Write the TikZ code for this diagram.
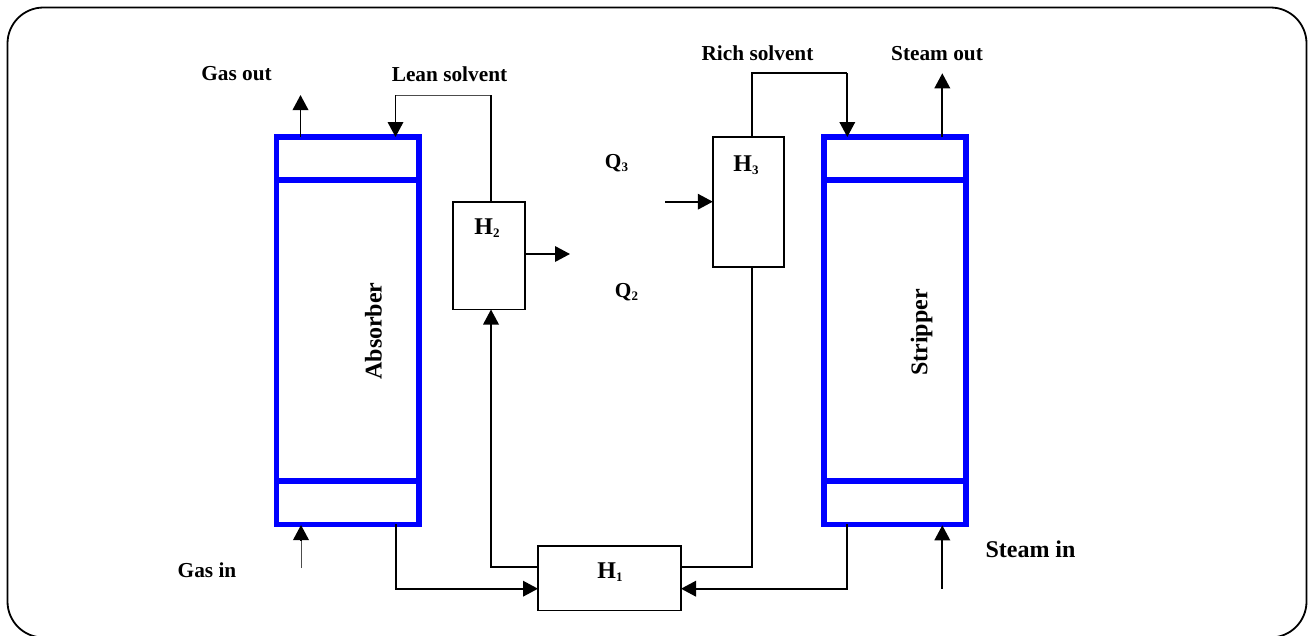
\documentclass[tikz,border=0pt]{standalone}
\usepackage{fontspec}
\setmainfont{Liberation Serif}
\usetikzlibrary{arrows.meta}
\newcommand{\subdig}[1]{\raisebox{-3pt}{\fontsize{13}{13}\selectfont #1}}
\tikzset{
  x=1pt,y=-1pt,
  frame/.style={draw=black,line width=1.8pt,rounded corners=36pt},
  column/.style={draw=blue,line width=5.5pt,inner sep=0pt,outer sep=0pt,anchor=north west},
  tray/.style={draw=blue,line width=5.5pt},
  hx/.style={draw=black,line width=1.9pt,fill=white,inner sep=0pt,outer sep=0pt,anchor=north west},
  flow/.style={draw=black,line width=1.9pt,-{Triangle[length=15pt,width=15.5pt]}},
  plain/.style={draw=black,line width=1.9pt},
  hair/.style={draw=black!70,line width=1pt},
  lbl/.style={font=\fontsize{21.3}{21.3}\selectfont\bfseries,inner sep=0pt},
  biglbl/.style={font=\fontsize{24}{24}\selectfont\bfseries,inner sep=0pt},
}
\begin{document}
\begin{tikzpicture}
\useasboundingbox (0,0) rectangle (1309,635);
\begin{scope}
\clip (0,0) rectangle (1309,635);
\draw[frame] (7.5,637.5) rectangle (1306.5,7.5);
\end{scope}
% columns
\node[column,minimum width=142.5pt,minimum height=387.5pt] (abs) at (276.5,137) {};
\node[column,minimum width=142pt,minimum height=387.5pt] (str) at (824,137) {};
\coordinate (absTL) at (276.5,180); \coordinate (absTR) at (419,180);
\coordinate (absBL) at (276.5,481); \coordinate (absBR) at (419,481);
\coordinate (strTL) at (824,180); \coordinate (strTR) at (966,180);
\coordinate (strBL) at (824,481); \coordinate (strBR) at (966,481);
\draw[tray] (absTL) -- (absTR); \draw[tray] (absBL) -- (absBR);
\draw[tray] (strTL) -- (strTR); \draw[tray] (strBL) -- (strBR);
\node[biglbl,rotate=90] (absl) at (373.5,331) {Absorber};
\node[biglbl,rotate=90] (strl) at (921.5,332.5) {Stripper};
% exchangers
\node[hx,minimum width=72pt,minimum height=107.5pt] (h2) at (453,202) {};
\node[hx,minimum width=71.5pt,minimum height=129.5pt] (h3) at (712.8,137.2) {};
\node[hx,minimum width=143pt,minimum height=64.5pt] (h1) at (538,546) {};
\node[biglbl] (h2l) at (487,228) {H\subdig{2}};
\node[biglbl] (h3l) at (746,165) {H\subdig{3}};
\node[biglbl] (h1l) at (610,572) {H\subdig{1}};
% labels
\node[lbl] (gasout) at (236.5,74) {Gas out};
\node[lbl] (lean) at (449.5,74) {Lean solvent};
\node[lbl] (rich) at (757.5,53) {Rich solvent};
\node[lbl] (steamout) at (937,54) {Steam out};
\node[lbl] (q3) at (616.5,163) {Q\subdig{3}};
\node[lbl] (q2) at (626.5,292) {Q\subdig{2}};
\node[lbl] (gasin) at (207,570) {Gas in};
\node[biglbl] (steamin) at (1030.5,549) {Steam in};
% free ends
\coordinate (gasoutA) at (300.5,137); \coordinate (gasoutB) at (300.5,95);
\coordinate (leanA) at (395.5,95); \coordinate (leanB) at (395.5,137);
\coordinate (h2top) at (491,95);
\coordinate (q2end) at (570,254); \coordinate (q2start) at (524,254);
\coordinate (q3start) at (665,201.7);
\coordinate (richT) at (752,73.3); \coordinate (richA) at (847.3,73.3); \coordinate (richB) at (847.3,137);
\coordinate (steamoutA) at (942.3,137); \coordinate (steamoutB) at (942.3,73.3);
\coordinate (gasinA) at (301,568); \coordinate (gasinB) at (301,525);
\coordinate (steaminA) at (942.3,588.7); \coordinate (steaminB) at (942.3,525.3);
% connectors
\draw[flow] (gasoutA) -- (gasoutB);
\draw[hair] (h2top) -- (leanA);
\draw[plain] (h2.north -| h2top) -- (h2top);
\draw[flow] (leanA) -- (leanB);
\draw[flow] (q2start) -- (q2end);
\draw[flow] (q3start) -- (q3start -| h3.west);
\draw[plain] (h3.north -| richT) -- (richT) -- (richA);
\draw[flow] (richA) -- (richB);
\draw[flow] (steamoutA) -- (steamoutB);
\draw[hair] (gasinA) -- (301,540);
\draw[flow] (301,540) -- (gasinB);
\draw[flow] (steaminA) -- (steaminB);
% bottom loop
\coordinate (absout) at (396,524); \coordinate (absoutC) at (396,588.7);
\coordinate (strout) at (847.3,524); \coordinate (stroutC) at (847.3,588.7);
\coordinate (leanC) at (491,567.3); \coordinate (richC) at (752,567.3);
\draw[flow] (absout) -- (absoutC) -- (absoutC -| h1.west);
\draw[flow] (strout) -- (stroutC) -- (stroutC -| h1.east);
\draw[flow] (h1.west |- leanC) -- (leanC) -- (leanC |- h2.south);
\draw[plain] (h1.east |- richC) -- (richC) -- (richC |- h3.south);
\end{tikzpicture}
\end{document}
